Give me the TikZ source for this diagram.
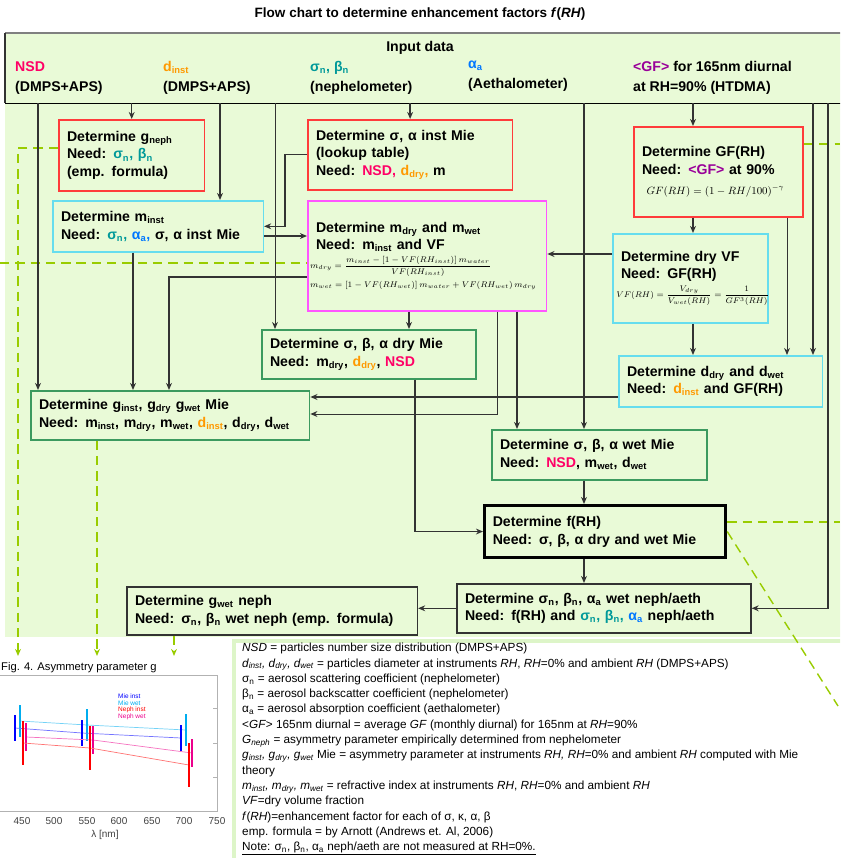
\documentclass[tikz,border=0pt]{standalone}
\usepackage{fontspec}
\setmainfont{Liberation Sans}
\usepackage{amsmath}
\usetikzlibrary{arrows.meta,calc}

\definecolor{panelbg}{HTML}{E9FAD7}
\definecolor{boxred}{HTML}{FF3B3B}
\definecolor{boxcyan}{HTML}{66DDEE}
\definecolor{boxmag}{HTML}{FF55FF}
\definecolor{boxgreen}{HTML}{3C9A5F}
\definecolor{boxdark}{HTML}{333333}
\definecolor{linegray}{HTML}{333333}
\definecolor{nsdcol}{HTML}{FF0066}
\definecolor{dcol}{HTML}{FF9900}
\definecolor{nephcol}{HTML}{009999}
\definecolor{aethcol}{HTML}{0077FF}
\definecolor{gfcol}{HTML}{990099}
\definecolor{dashgreen}{HTML}{99CC00}
\definecolor{legbd}{HTML}{DDF5C8}

\newcommand{\lo}[1]{\textsubscript{#1}}
\newcommand{\nsd}[1]{\textcolor{nsdcol}{#1}}
\newcommand{\dcl}[1]{\textcolor{dcol}{#1}}
\newcommand{\nph}[1]{\textcolor{nephcol}{#1}}
\newcommand{\aet}[1]{\textcolor{aethcol}{#1}}
\newcommand{\gfc}[1]{\textcolor{gfcol}{#1}}

\begin{document}
\begin{tikzpicture}[x=0.85pt, y=-0.85pt,
    box/.style={draw, line width=1.3pt, fill=panelbg, anchor=north west, align=left,
        inner xsep=7pt, inner ysep=2pt, font=\bfseries\fontsize{12}{15}\selectfont},
    arr/.style={-{Stealth[length=6pt,width=5pt]}, line width=1.1pt, draw=linegray},
    gdash/.style={draw=dashgreen, line width=1.2pt, dash pattern=on 8pt off 5pt},
    inlab/.style={anchor=north west, align=left, inner sep=0pt, font=\bfseries\fontsize{12}{17}\selectfont}
]
    \useasboundingbox (0,0) rectangle (840,858);
    \clip (0,0) rectangle (840,858);

    % background panels
    \fill[panelbg] (5,33) rectangle (845,637);
    \draw[legbd, line width=4pt, fill=white] (234,641) rectangle (860,870);

    \node[font=\bfseries\fontsize{11.5}{14}\selectfont] (title) at (420,14)
        {Flow chart to determine enhancement factors \textit{f}(\textit{RH})};

    % input data header
    \node[anchor=north west, minimum width=710pt, minimum height=59.5pt, inner sep=0pt] (input) at (5,33) {};
    \draw[gray, line width=1.6pt] (input.north west) -- (input.north east);
    \draw[boxdark, line width=2.4pt] (input.north west) -- (input.south west);
    \draw[black, line width=1.3pt] (input.south west) -- (input.south east);
    \node[font=\bfseries\fontsize{12}{14}\selectfont] (intitle) at (420,48) {Input data};
    \node[inlab] (in1) at (15,61) {\nsd{NSD}\\(DMPS+APS)};
    \node[inlab] (in2) at (163,61) {\dcl{d\lo{inst}}\\(DMPS+APS)};
    \node[inlab] (in3) at (310,61) {\nph{σ\lo{n}, β\lo{n}}\\(nephelometer)};
    \node[inlab] (in4) at (468,61) {\aet{α\lo{a}}\\(Aethalometer)};
    \node[inlab] (in5) at (633,61) {\gfc{<GF>} for 165nm diurnal\\at RH=90\% (HTDMA)};

    % green dashed links to the figure
    \coordinate (fig1) at (18,656);
    \coordinate (fig2) at (97,656);
    \coordinate (fig3) at (174,656);
    \coordinate (leftend) at (0,263);
    \coordinate (gfout) at (840,144);
    \coordinate (frhout) at (840,522);
    \coordinate (frhdiag) at (838,706);

    % boxes
    \node[box, draw=boxred, text width=110pt, minimum height=60.4pt] (gneph) at (58,119)
        {Determine g\lo{neph}\\Need: \nph{σ\lo{n}, β\lo{n}}\\(emp. formula)};
    \node[box, draw=boxred, text width=160pt, minimum height=59.5pt] (sainst) at (307,119)
        {Determine σ, α inst Mie\\(lookup table)\\Need: \nsd{NSD,} \dcl{d\lo{dry},} m};
    \node[box, draw=boxred, text width=130pt, minimum height=76.5pt] (GF) at (633,126)
        {Determine GF(RH)\\Need: \gfc{<GF>} at 90\%\\[2pt]
         \hspace*{4pt}{\small$GF(RH)=\left(1-RH/100\right)^{-\gamma}$}};
    \node[box, draw=boxcyan, text width=165pt, minimum height=43.4pt] (minst) at (52,200)
        {Determine m\lo{inst}\\Need: \nph{σ\lo{n},} \aet{α\lo{a},} σ, α inst Mie};
    \node[box, draw=boxmag, text width=199pt, minimum height=93.5pt, inner xsep=2pt, inner ysep=5pt] (mdry) at (307,200)
        {\hspace*{5pt}Determine m\lo{dry} and m\lo{wet}\\\hspace*{5pt}Need: m\lo{inst} and VF\\[1pt]
         {\fontsize{7.5}{9}\selectfont$m_{dry}=\dfrac{m_{inst}-\left[1-VF(RH_{inst})\right]m_{water}}{VF(RH_{inst})}$}\\[1pt]
         {\fontsize{7.5}{9}\selectfont$m_{wet}=\left[1-VF(RH_{wet})\right]m_{water}+VF(RH_{wet})\,m_{dry}$}};
    \node[box, draw=boxcyan, text width=126pt, minimum height=75.7pt, inner xsep=3pt] (dryVF) at (612,233)
        {\hspace*{4pt}Determine dry VF\\\hspace*{4pt}Need: GF(RH)\\[1pt]
         \makebox[0pt][l]{\fontsize{7}{8}\selectfont$VF(RH)=\dfrac{V_{dry}}{V_{wet}(RH)}=\dfrac{1}{GF^{3}(RH)}$}};
    \node[box, draw=boxgreen, text width=168pt, minimum height=41.7pt] (drymie) at (261,329)
        {Determine σ, β, α dry Mie\\Need: m\lo{dry}, \dcl{d\lo{dry}}, \nsd{NSD}};
    \node[box, draw=boxgreen, text width=223pt, minimum height=41.7pt] (ginst) at (30,390)
        {Determine g\lo{inst}, g\lo{dry} g\lo{wet} Mie\\Need: m\lo{inst}, m\lo{dry}, m\lo{wet}, \dcl{d\lo{inst}}, d\lo{dry}, d\lo{wet}};
    \node[box, draw=boxcyan, text width=159pt, minimum height=43.4pt] (ddry) at (618,355)
        {Determine d\lo{dry} and d\lo{wet}\\Need: \dcl{d\lo{inst}} and GF(RH)};
    \node[box, draw=boxgreen, text width=169pt, minimum height=42.5pt] (wetmie) at (491,429)
        {Determine σ, β, α wet Mie\\Need: \nsd{NSD}, m\lo{wet}, d\lo{wet}};
    \node[box, draw=black, line width=2.6pt, text width=191pt, minimum height=44.2pt] (frh) at (483,504)
        {Determine f(RH)\\Need: σ, β, α dry and wet Mie};
    \node[box, draw=boxdark, text width=236pt, minimum height=41.7pt] (nephaeth) at (456,583)
        {Determine σ\lo{n}, β\lo{n}, α\lo{a} wet neph/aeth\\Need: f(RH) and \nph{σ\lo{n}, β\lo{n},} \aet{α\lo{a}} neph/aeth};
    \node[box, draw=boxdark, text width=233pt, minimum height=40.8pt] (gwet) at (126,586)
        {Determine g\lo{wet} neph\\Need: σ\lo{n}, β\lo{n} wet neph (emp. formula)};

    % green dashed lines
    \draw[gdash, -{Stealth[length=6pt,width=5pt]}] (gneph.west |- 0,148) -| (fig1);
    \draw[gdash, -{Stealth[length=6pt,width=5pt]}] (ginst.south -| fig2) -- (fig2);
    \draw[gdash, -{Stealth[length=6pt,width=5pt]}] (gwet.south -| fig3) -- (fig3);
    \draw[gdash] (leftend) -- (mdry.west |- leftend);
    \draw[gdash] (GF.east |- gfout) -- (gfout);
    \draw[gdash] (frh.east |- frhout) -- (frhout);
    \draw[gdash] (frh.east) -- (frhdiag);

    % input data to boxes
    \draw[arr] (input.south -| 38,0) -- (ginst.north -| 38,0);
    \draw[arr] (input.south -| gneph.north) -- (gneph.north);
    \draw[arr] (input.south -| 220,0) -- (minst.north -| 220,0);
    \draw[arr, line width=0.8pt] (input.south -| 275,0) -- (drymie.north -| 275,0);
    \draw[arr] (input.south -| sainst.north) -- (sainst.north);
    \draw[arr] (input.south -| 584,0) -- (wetmie.north -| 584,0);
    \draw[arr] (input.south -| 693,0) -- (GF.north -| 693,0);
    \draw[arr] (input.south -| 813,0) -- (ddry.north -| 813,0);
    \draw[arr] (input.south -| 828,0) |- (nephaeth.east);

    % box to box
    \draw[arr] (sainst.west) -- ++(-22,0) |- (minst.east);
    \draw[arr] (minst.east |- 0,236) -- (mdry.west |- 0,236);
    \draw[arr] (dryVF.west |- 0,254) -- (mdry.east |- 0,254);
    \draw[arr] (GF.south -| 693,0) -- (dryVF.north -| 693,0);
    \draw[arr] (dryVF.south -| 693,0) -- (ddry.north -| 693,0);
    \draw[arr, line width=0.8pt] (GF.south -| 787,0) -- (ddry.north -| 787,0);
    \draw[arr] (minst.south -| 133,0) -- (ginst.north -| 133,0);
    \draw[arr] (mdry.west |- 0,277) -| (ginst.north -| 169,0);
    \draw[arr] (mdry.south -| 409,0) -- (drymie.north -| 409,0);
    \draw[arr] (mdry.south -| 517,0) -- (wetmie.north -| 517,0);
    \draw[arr, line width=0.8pt] (mdry.south -| 497,0) |- (ginst.east |- 0,414);
    \draw[arr] (ddry.west |- 0,397) -- (ginst.east |- 0,397);
    \draw[arr] (drymie.south -| 415,0) |- (frh.west);
    \draw[arr] (wetmie.south -| 584,0) -- (frh.north -| 584,0);
    \draw[arr] (frh.south -| 584,0) -- (nephaeth.north -| 584,0);
    \draw[arr] (nephaeth.west) -- (gwet.east |- nephaeth.west);

    % figure 4 (asymmetry parameter)
    \node[anchor=base west, inner sep=0pt, font=\fontsize{9.5}{11}\selectfont] (figcap) at (1,670)
        {Fig. 4. Asymmetry parameter g};
    \draw[gray!60, line width=0.6pt] (-5,675) rectangle (217,811);
    \foreach \yy in {708,743,777}
        \draw[gray!60, line width=0.5pt] (213,\yy) -- (217,\yy);
    \foreach \lam/\xp in {450/22,500/54,550/87,600/119,650/152,700/184,750/217}
        \node[font=\fontsize{8.5}{10}\selectfont, text=black!75] (tick\lam) at (\xp,821) {\lam};
    \node[font=\fontsize{8.5}{10}\selectfont, text=black!75] (lamlab) at (105,835) {λ [nm]};
    \foreach \col/\ya/\yb/\yc/\dx/\ea in {cyan/721/725/730/5/16, blue/728/733/738/0/13, magenta/737/740/753/11/14, red/743/748/765/8/22}{
        \draw[\col!55, line width=0.6pt] (15+\dx,\ya) -- (82+\dx,\yb) -- (181+\dx,\yc);
        \foreach \xx/\yy in {15/\ya, 82/\yb, 181/\yc}
            \draw[\col, line width=1.5pt] (\xx+\dx,\yy-\ea) -- (\xx+\dx,\yy+\ea);
    }
    \node[anchor=north west, align=left, inner sep=0pt, font=\fontsize{5.5}{5.5}\selectfont] (plotleg) at (118,694)
        {\textcolor{blue}{Mie inst}\\\textcolor{cyan}{Mie wet}\\\textcolor{red}{Neph inst}\\\textcolor{magenta}{Neph wet}};

    % legend
    \node[anchor=north west, align=left, inner sep=0pt, font=\fontsize{10}{13}\selectfont] (legend) at (242,643)
        {\textit{NSD} = particles number size distribution (DMPS+APS)\\
         \textit{d\lo{inst}, d\lo{dry}, d\lo{wet}} = particles diameter at instruments \textit{RH}, \textit{RH}=0\% and ambient \textit{RH} (DMPS+APS)\\
         σ\lo{n} = aerosol scattering coefficient (nephelometer)\\
         β\lo{n} = aerosol backscatter coefficient (nephelometer)\\
         α\lo{a} = aerosol absorption coefficient (aethalometer)\\
         <\textit{GF}> 165nm diurnal = average \textit{GF} (monthly diurnal) for 165nm at \textit{RH}=90\%\\
         \textit{G\lo{neph}} = asymmetry parameter empirically determined from nephelometer\\
         \textit{g\lo{inst}, g\lo{dry}, g\lo{wet}} Mie = asymmetry parameter at instruments \textit{RH, RH}=0\% and ambient \textit{RH} computed with Mie\\
         theory\\
         \textit{m\lo{inst}, m\lo{dry}, m\lo{wet}} = refractive index at instruments \textit{RH}, \textit{RH}=0\% and ambient \textit{RH}\\
         \textit{VF}=dry volume fraction\\
         \textit{f}(\textit{RH})=enhancement factor for each of σ, κ, α, β\\
         emp. formula = by Arnott (Andrews et. Al, 2006)\\
         \underline{Note: σ\lo{n}, β\lo{n}, α\lo{a} neph/aeth are not measured at RH=0\%.}};
\end{tikzpicture}
\end{document}
